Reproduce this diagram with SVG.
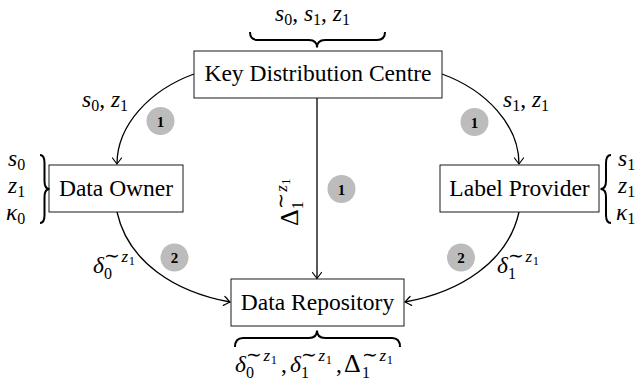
<svg xmlns="http://www.w3.org/2000/svg" width="639" height="392" viewBox="0 0 639 392" font-family="'Liberation Serif', serif">
<style>
text{font-family:"Liberation Serif",serif;fill:#000}
.lbl{font-size:23.5px}
.m{font-size:23.5px;font-style:italic}
.u{font-size:23.5px}
.D{font-size:26px}
.sb{font-size:16px}
.si{font-size:17px;font-style:italic}
.tl{font-size:19px}
.ss{font-size:12.5px}
.box{fill:#fff;stroke:#000;stroke-width:0.9}
.edge{fill:none;stroke:#000;stroke-width:1.3}
.brace{fill:none;stroke:#000;stroke-width:2}
.step{fill:#bcbcbc}
.num{font-size:15px;font-weight:bold;text-anchor:middle}
</style>
<defs>
<marker id="arr" markerUnits="userSpaceOnUse" viewBox="-8 -6 10 12" refX="0" refY="0" markerWidth="10" markerHeight="12" orient="auto">
<path d="M-6,-4.5 Q-1.5,-1.2 0,0 Q-1.5,1.2 -6,4.5" fill="none" stroke="#000" stroke-width="1.2" stroke-linecap="round"/>
</marker>
</defs>
<rect width="639" height="392" fill="#fff"/>
<g id="connectors">
<path class="edge" d="M194,74 C150,90 117,125 117,164" marker-end="url(#arr)"/>
<path class="edge" d="M442,74 C486,90 519,125 519,164" marker-end="url(#arr)"/>
<path class="edge" d="M317,98 L317,278.5" marker-end="url(#arr)"/>
<path class="edge" d="M117,212 C128,262 175,292 230,302" marker-end="url(#arr)"/>
<path class="edge" d="M519,212 C508,262 460,292 405,302" marker-end="url(#arr)"/>
</g>
<g id="kdc">
<rect class="box" x="194" y="51" width="248" height="47"/>
<text class="lbl" x="318" y="81" text-anchor="middle">Key Distribution Centre</text>
</g>
<g id="owner">
<rect class="box" x="49" y="165" width="134" height="47"/>
<text class="lbl" x="116" y="196" text-anchor="middle">Data Owner</text>
</g>
<g id="provider">
<rect class="box" x="440" y="165" width="159" height="47"/>
<text class="lbl" x="519.5" y="196" text-anchor="middle">Label Provider</text>
</g>
<g id="repository">
<rect class="box" x="231" y="279" width="173" height="47"/>
<text class="lbl" x="317.5" y="310" text-anchor="middle">Data Repository</text>
</g>
<g id="braces">
<path class="brace" d="M250,32 Q250,40 258,40 L309,40 Q317,40 317,47.5 Q317,40 325,40 L377,40 Q385,40 385,32"/>
<path class="brace" d="M235,347 Q235,338 243,338 L309,338 Q317,338 317,330.5 Q317,338 325,338 L392,338 Q400,338 400,347"/>
<path class="brace" d="M40,155 Q44.5,155 44.5,163 L44.5,181 Q44.5,189 49.5,189 Q44.5,189 44.5,197 L44.5,215 Q44.5,223 40,223"/>
<path class="brace" d="M611,155 Q606,155 606,163 L606,181 Q606,189 600.5,189 Q606,189 606,197 L606,215 Q606,223 611,223"/>
</g>
<g id="labels">
<text x="275" y="21"><tspan class="m">s</tspan><tspan class="sb" dy="4">0</tspan><tspan class="u" dy="-4">, </tspan><tspan class="m">s</tspan><tspan class="sb" dy="4">1</tspan><tspan class="u" dy="-4">, </tspan><tspan class="m">z</tspan><tspan class="sb" dy="4">1</tspan></text>
<text x="82" y="107"><tspan class="m">s</tspan><tspan class="sb" dy="4">0</tspan><tspan class="u" dy="-4">, </tspan><tspan class="m">z</tspan><tspan class="sb" dy="4">1</tspan></text>
<text x="503" y="107"><tspan class="m">s</tspan><tspan class="sb" dy="4">1</tspan><tspan class="u" dy="-4">, </tspan><tspan class="m">z</tspan><tspan class="sb" dy="4">1</tspan></text>
<text x="8" y="166"><tspan class="m">s</tspan><tspan class="sb" dy="4">0</tspan></text>
<text x="8" y="193"><tspan class="m">z</tspan><tspan class="sb" dy="4">1</tspan></text>
<text x="6" y="220"><tspan class="m">κ</tspan><tspan class="sb" dy="4">0</tspan></text>
<text x="618" y="166"><tspan class="m">s</tspan><tspan class="sb" dy="4">1</tspan></text>
<text x="618" y="193"><tspan class="m">z</tspan><tspan class="sb" dy="4">1</tspan></text>
<text x="616" y="220"><tspan class="m">κ</tspan><tspan class="sb" dy="4">1</tspan></text>
<text class="m" x="93" y="273">δ</text><text class="sb" x="104" y="279">0</text><text x="104" y="262"><tspan class="tl">∼</tspan><tspan class="si" dx="1.5">z</tspan><tspan class="ss" dx="0.5" dy="3">1</tspan></text>
<text class="m" x="497" y="273">δ</text><text class="sb" x="508" y="279">1</text><text x="508" y="262"><tspan class="tl">∼</tspan><tspan class="si" dx="1.5">z</tspan><tspan class="ss" dx="0.5" dy="3">1</tspan></text>
<text transform="translate(298,226) rotate(-90)"><tspan class="D">Δ</tspan><tspan class="sb" dy="5">1</tspan><tspan class="tl" dx="-8" dy="-16">∼</tspan><tspan class="si" dx="1.5">z</tspan><tspan class="ss" dx="0.5" dy="3">1</tspan></text>
<text class="m" x="235" y="372">δ</text><text class="sb" x="246" y="378">0</text><text x="246" y="361"><tspan class="tl">∼</tspan><tspan class="si" dx="1.5">z</tspan><tspan class="ss" dx="0.5" dy="3">1</tspan></text>
<text class="u" x="281" y="372">,</text>
<text class="m" x="290" y="372">δ</text><text class="sb" x="301" y="378">1</text><text x="301" y="361"><tspan class="tl">∼</tspan><tspan class="si" dx="1.5">z</tspan><tspan class="ss" dx="0.5" dy="3">1</tspan></text>
<text class="u" x="336" y="372">,</text>
<text class="D" x="344" y="372">Δ</text><text class="sb" x="362" y="378">1</text><text x="362" y="361"><tspan class="tl">∼</tspan><tspan class="si" dx="1.5">z</tspan><tspan class="ss" dx="0.5" dy="3">1</tspan></text>
</g>
<g id="step1a"><circle class="step" cx="160.5" cy="121" r="14"/><text class="num" x="160.5" y="126.5">1</text></g>
<g id="step1b"><circle class="step" cx="474.5" cy="122" r="14"/><text class="num" x="474.5" y="127.5">1</text></g>
<g id="step1c"><circle class="step" cx="341.5" cy="189" r="14"/><text class="num" x="341.5" y="194.5">1</text></g>
<g id="step2a"><circle class="step" cx="174.5" cy="257.5" r="14"/><text class="num" x="174.5" y="263">2</text></g>
<g id="step2b"><circle class="step" cx="461" cy="257.5" r="14"/><text class="num" x="461" y="263">2</text></g>
</svg>
